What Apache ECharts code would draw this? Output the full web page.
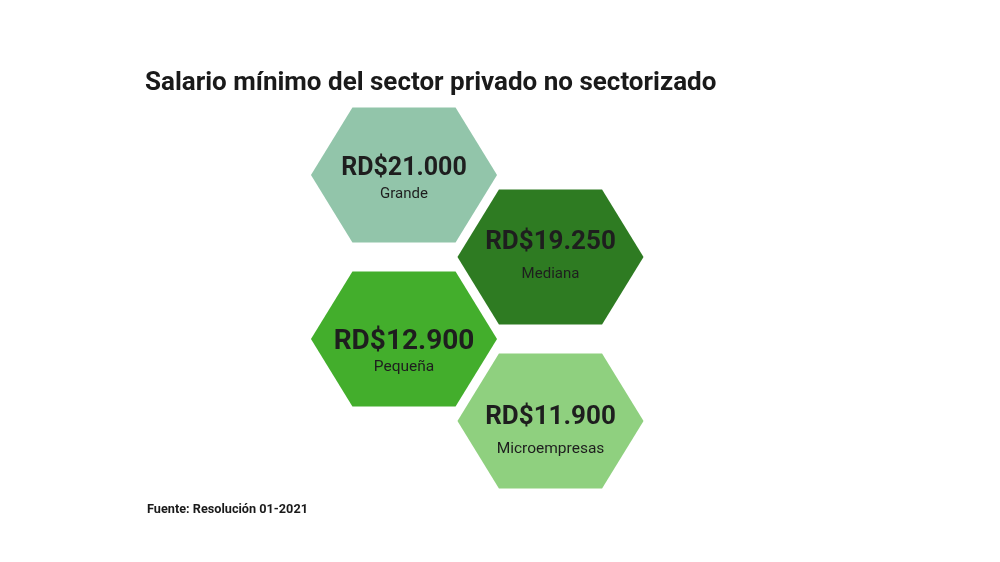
<!DOCTYPE html>
<html><head><meta charset="utf-8">
<script src="https://cdn.jsdelivr.net/npm/echarts@6/dist/echarts.min.js"></script>
<style>html,body{margin:0;padding:0;background:#fff}#c{width:1000px;height:562px}</style>
</head><body><div id="c"></div>
<script>
// Data
var categories = ['Grande', 'Mediana', 'Pequeña', 'Microempresas'];
var salaries = [21000, 19250, 12900, 11900];
var titleText = 'Salario mínimo del sector privado no sectorizado';
var sourceText = 'Fuente: Resolución 01-2021';

// Styles
var fillColors = ['#92c5aa', '#2e7b22', '#43ae2c', '#8fd07f'];
var valueFont = [25, 26, 28, 26];
var labelFont = [15, 15, 15.5, 15.5];
var valueDy = [-6.5, -14.5, 2.5, -3.5];
var labelDy = [19.5, 17.5, 28.5, 28.5];

function fmt(v) {
  return 'RD$' + String(v).replace(/\B(?=(\d{3})+(?!\d))/g, '.');
}

// honeycomb layout: alternate columns, one row per item
var seriesData = categories.map(function (c, i) {
  return { name: c, value: [i % 2, i, salaries[i]] };
});

var chart = echarts.init(document.getElementById('c'), null, { renderer: 'canvas' });
chart.setOption({
  animation: false,
  title: [
    { text: titleText, left: 140, top: 65, textStyle: { fontFamily: 'Roboto', fontWeight: 'bold', fontSize: 26, color: '#1a1a1a' } },
    { text: sourceText, left: 142, top: 498, textStyle: { fontFamily: 'Roboto', fontWeight: 'bold', fontSize: 12.7, color: '#1a1a1a' } }
  ],
  grid: { left: 404, right: 449.5, top: 175, bottom: 141 },
  xAxis: { type: 'value', min: 0, max: 1, show: false },
  yAxis: { type: 'value', min: 0, max: 3, inverse: true, show: false },
  series: [{
    type: 'custom',
    data: seriesData,
    encode: { x: 0, y: 1 },
    renderItem: function (params, api) {
      var i = params.dataIndex;
      var c = api.coord([api.value(0), api.value(1)]);
      var s = api.size([1, 1]);
      var hw = 0.635 * s[0], hh = 0.823 * s[1], he = 0.352 * s[0];
      var pts = [
        [c[0] - hw, c[1]], [c[0] - he, c[1] - hh], [c[0] + he, c[1] - hh],
        [c[0] + hw, c[1]], [c[0] + he, c[1] + hh], [c[0] - he, c[1] + hh]
      ];
      return {
        type: 'group',
        children: [
          { type: 'polygon', shape: { points: pts }, style: { fill: fillColors[i] } },
          { type: 'text', x: c[0], y: c[1] + valueDy[i], style: {
            text: fmt(api.value(2)), fill: '#1e1e1e', font: 'bold ' + valueFont[i] + 'px Roboto',
            textAlign: 'center', textVerticalAlign: 'middle' } },
          { type: 'text', x: c[0], y: c[1] + labelDy[i], style: {
            text: categories[i], fill: '#1e1e1e', font: labelFont[i] + 'px Roboto',
            textAlign: 'center', textVerticalAlign: 'middle' } }
        ]
      };
    }
  }]
});
</script></body></html>
